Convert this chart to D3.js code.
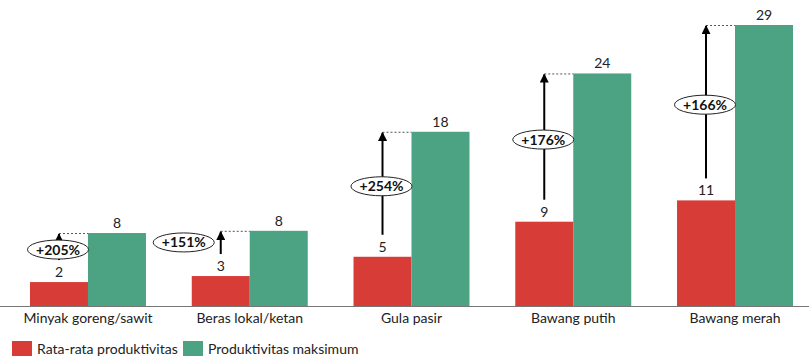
<!DOCTYPE html>
<html>
<head>
<meta charset="utf-8">
<script src="https://cdn.jsdelivr.net/npm/d3@7"></script>
<style>
  html, body { margin: 0; padding: 0; background: #fff; }
  svg { display: block; }
  text { font-family: Lato, "Noto Sans", sans-serif; }
</style>
</head>
<body>
<svg id="chart" width="809" height="357"></svg>
<script>
// Commodity groups
const categories = ["Minyak goreng/sawit", "Beras lokal/ketan", "Gula pasir", "Bawang putih", "Bawang merah"];
// Average productivity per commodity
const avgValues = [2.47, 3.09, 5.08, 8.70, 10.9];
// Maximum productivity per commodity
const maxValues = [7.53, 7.76, 17.98, 24.0, 29.0];
// Series names for the legend
const seriesNames = ["Rata-rata produktivitas", "Produktivitas maksimum"];
const seriesColors = ["#D83C36", "#4BA384"];

const W = 809, H = 357;
const baseY = 306;
const svg = d3.select("#chart");

const x = d3.scaleBand()
  .domain(categories)
  .range([7.1, 815.9])
  .paddingInner(0.283)
  .paddingOuter(0.1415);

const y = d3.scaleLinear().domain([0, 29]).range([baseY, 25]);

const half = x.bandwidth() / 2;
const fmtVal = d3.format(".0f");

const data = categories.map((c, i) => ({
  cat: c, avg: avgValues[i], max: maxValues[i],
  pct: Math.round((maxValues[i] / avgValues[i] - 1) * 100)
}));

// arrowhead marker
svg.append("defs").append("marker")
  .attr("id", "head")
  .attr("viewBox", "0 0 10 10")
  .attr("refX", 9).attr("refY", 5)
  .attr("markerWidth", 4.5).attr("markerHeight", 4.5)
  .attr("markerUnits", "strokeWidth")
  .attr("orient", "auto")
  .append("path").attr("d", "M0,0 L10,5 L0,10 Z").attr("fill", "#000");

const g = svg.append("g");

const groups = g.selectAll("g.grp").data(data).join("g").attr("class", "grp");

// average bars
groups.append("rect")
  .attr("x", d => x(d.cat))
  .attr("y", d => y(d.avg))
  .attr("width", half)
  .attr("height", d => baseY - y(d.avg))
  .attr("fill", seriesColors[0]);

// maximum bars
groups.append("rect")
  .attr("x", d => x(d.cat) + half)
  .attr("y", d => y(d.max))
  .attr("width", half)
  .attr("height", d => baseY - y(d.max))
  .attr("fill", seriesColors[1]);

// value labels
groups.append("text")
  .attr("x", d => x(d.cat) + half / 2)
  .attr("y", d => y(d.avg) - 5)
  .attr("text-anchor", "middle")
  .attr("font-size", 14)
  .attr("fill", "#222")
  .text(d => fmtVal(d.avg));

groups.append("text")
  .attr("x", d => x(d.cat) + half * 1.5)
  .attr("y", d => y(d.max) - 5)
  .attr("text-anchor", "middle")
  .attr("font-size", 14)
  .attr("fill", "#222")
  .text(d => fmtVal(d.max));

// dashed guide from arrow tip to the max bar
groups.append("line")
  .attr("x1", d => x(d.cat) + half / 2)
  .attr("x2", d => x(d.cat) + half)
  .attr("y1", d => y(d.max) + 0.5)
  .attr("y2", d => y(d.max) + 0.5)
  .attr("stroke", "#555")
  .attr("stroke-width", 1)
  .attr("stroke-dasharray", "2,2");

// growth arrows
const arrowBottom = d => y(d.avg) - 22;
groups.append("line")
  .attr("x1", d => x(d.cat) + half / 2)
  .attr("x2", d => x(d.cat) + half / 2)
  .attr("y1", arrowBottom)
  .attr("y2", d => y(d.max) + 1)
  .attr("stroke", "#000")
  .attr("stroke-width", 2)
  .attr("marker-end", "url(#head)");

// percentage badges
const badge = groups.append("g")
  .attr("transform", (d, i) => {
    const mid = (arrowBottom(d) + y(d.max)) / 2 + 3;
    const cx = x(d.cat) + half / 2;
    // short arrow: place badge beside it
    if (arrowBottom(d) - y(d.max) < 40 && i === 1) return `translate(${cx - 37},${mid - 3})`;
    return `translate(${cx - 1},${mid})`;
  });

badge.append("ellipse")
  .attr("rx", 30.5).attr("ry", 9.5)
  .attr("fill", "#fff")
  .attr("stroke", "#222")
  .attr("stroke-width", 1);

badge.append("text")
  .attr("text-anchor", "middle")
  .attr("dy", "0.36em")
  .attr("font-size", 14)
  .attr("font-weight", "bold")
  .attr("fill", "#111")
  .text(d => `+${d.pct}%`);

// baseline
g.append("line")
  .attr("x1", 0).attr("x2", W)
  .attr("y1", baseY + 0.5).attr("y2", baseY + 0.5)
  .attr("stroke", "#777").attr("stroke-width", 1);

// category axis
const xAxis = d3.axisBottom(x).tickSize(0).tickPadding(7);
const ax = svg.append("g").attr("transform", `translate(0,${baseY})`).call(xAxis);
ax.select(".domain").remove();
ax.selectAll("text")
  .attr("font-size", 14)
  .attr("font-family", "Lato, 'Noto Sans', sans-serif")
  .attr("fill", "#222");

// legend
const legendX = [12, 183];
const leg = svg.append("g").selectAll("g").data(seriesNames).join("g")
  .attr("transform", (d, i) => `translate(${legendX[i]},341)`);
leg.append("rect").attr("width", 20).attr("height", 15)
  .attr("fill", (d, i) => seriesColors[i]);
leg.append("text")
  .attr("x", 25).attr("y", 13)
  .attr("font-size", 14)
  .attr("fill", "#222")
  .text(d => d);
</script>
</body>
</html>
